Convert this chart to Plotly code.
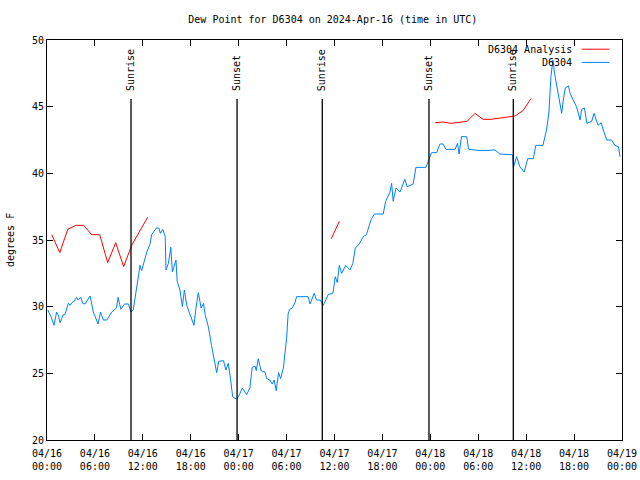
import plotly.graph_objects as go
import pandas as pd

BASE = pd.Timestamp("2024-04-16 00:00")

# D6304 observations (hours since 04/16 00:00 UTC, dew point degF)
obs_hours = [0.1, 0.5, 0.88, 1.2, 1.45, 1.63, 2.04, 2.25, 2.67, 2.9, 3.1, 3.4, 3.7, 3.9, 4.25, 4.47, 4.76,
             5.1, 5.4, 5.8, 6.1, 6.4, 6.7, 7.05, 7.5, 8.1, 8.7, 8.9, 9.25, 9.7, 10.2, 10.5, 10.8, 11.1,
             11.4, 11.65, 11.85, 12.27, 12.5, 12.9, 13.1, 13.7, 14.0, 14.2, 14.5, 14.8, 14.9, 15.2, 15.5,
             15.7, 16.15, 16.3, 16.65, 16.95, 17.2, 17.5, 17.9, 18.4, 18.65, 18.95, 19.3, 19.6, 19.8,
             20.2, 20.6, 20.9, 21.25, 21.5, 22.1, 22.4, 22.7, 23.0, 23.25, 23.75, 24.1, 24.45, 25.0,
             25.4, 25.7, 26.05, 26.2, 26.45, 26.8, 27.3, 27.5, 27.9, 28.2, 28.45, 28.7, 29.0, 29.25,
             29.6, 29.8, 30.0, 30.2, 30.4, 30.7, 31.05, 31.25, 32.7, 32.95, 33.45, 33.75, 34.2, 34.6,
             35.2, 35.8, 36.1, 36.35, 36.6, 36.9, 37.4, 37.95, 38.3, 38.6, 39.1, 39.6, 40.0, 40.35,
             40.6, 41.0, 42.1, 42.4, 42.95, 43.15, 43.35, 43.7, 44.2, 44.8, 45.1, 45.85, 46.2, 47.45,
             47.95, 48.15, 48.8, 49.2, 49.6, 49.95, 51.1, 51.4, 51.6, 51.9, 52.55, 52.8, 54.4, 56.1,
             56.7, 57.8, 58.3, 58.4, 58.8, 59.2, 59.75, 60.2, 60.9, 61.2, 62.1, 62.55, 62.85, 63.1,
             63.35, 63.55, 63.8, 64.25, 64.45, 64.65, 64.9, 65.3, 65.5, 65.9, 66.3, 66.75, 66.95,
             67.3, 67.6, 68.2, 68.5, 69.0, 69.4, 69.65, 70.1, 70.7, 71.1, 71.55, 71.75]
obs_values = [29.75, 29.25, 28.6, 29.6, 29.3, 28.8, 29.4, 29.4, 30.25, 30.1, 30.3, 30.4, 30.7, 30.5, 30.7,
              30.25, 30.2, 30.5, 30.8, 29.6, 29.2, 28.7, 29.6, 29.0, 29.0, 29.6, 29.9, 30.7, 29.8, 30.2,
              30.2, 29.6, 29.75, 30.9, 32.0, 33.1, 32.7, 33.6, 34.1, 34.7, 35.4, 35.9, 35.9, 35.5, 35.8,
              35.25, 32.75, 33.25, 34.45, 32.6, 33.5, 31.9, 31.25, 30.0, 31.25, 30.1, 29.5, 28.6, 29.9,
              31.05, 29.9, 30.25, 29.4, 28.5, 27.1, 26.0, 25.05, 25.9, 25.95, 25.25, 25.75, 24.5, 23.25,
              23.05, 23.4, 23.9, 23.4, 23.9, 25.45, 25.55, 25.2, 26.1, 25.2, 25.1, 24.6, 24.5, 24.2,
              24.5, 23.7, 25.05, 24.6, 25.4, 26.4, 27.6, 29.5, 29.8, 29.9, 30.3, 30.75, 30.75, 30.2,
              31.0, 30.5, 30.5, 30.1, 30.9, 31.0, 32.25, 31.8, 33.1, 32.5, 33.1, 32.75, 33.25, 34.4,
              34.7, 35.25, 35.4, 36.1, 36.55, 36.95, 36.95, 37.9, 38.6, 39.25, 37.9, 38.9, 38.6, 39.55,
              39.0, 39.2, 40.45, 40.45, 41.25, 41.55, 41.55, 42.2, 42.2, 41.8, 41.8, 42.25, 41.45,
              42.75, 42.75, 41.8, 41.7, 41.75, 41.45, 41.45, 41.4, 40.45, 41.25, 40.5, 40.1, 41.1,
              41.1, 42.1, 42.1, 43.25, 44.6, 47.25, 48.5, 47.5, 46.6, 45.0, 44.5, 45.5, 46.4, 46.55,
              46.0, 45.5, 45.0, 44.0, 44.8, 44.9, 43.75, 43.9, 44.5, 43.6, 43.8, 43.25, 42.5, 42.5,
              42.1, 42.0, 41.25]

# D6304 Analysis (three separate segments)
ana1_hours = [0.6, 1.6, 2.6, 3.6, 4.6, 5.6, 6.6, 7.6, 8.6, 9.6, 10.6, 11.6, 12.6]
ana1_values = [35.4, 34.05, 35.8, 36.1, 36.1, 35.4, 35.4, 33.3, 34.8, 33.0, 34.6, 35.65, 36.7]
ana2_hours = [35.6, 36.6]
ana2_values = [35.1, 36.4]
ana3_hours = [48.6, 49.6, 50.6, 51.6, 52.6, 53.6, 54.6, 55.6, 56.6, 57.6, 58.6, 59.6, 60.6]
ana3_values = [43.8, 43.85, 43.75, 43.85, 43.9, 44.5, 44.05, 44.05, 44.15, 44.2, 44.3, 44.7, 45.6]

# Sun events
event_hours = [10.52, 23.8, 34.47, 47.83, 58.39]
event_labels = ["Sunrise", "Sunset", "Sunrise", "Sunset", "Sunrise"]

# X ticks
tick_hours = [0, 6, 12, 18, 24, 30, 36, 42, 48, 54, 60, 66, 72]
tick_labels = ["04/16<br>00:00", "04/16<br>06:00", "04/16<br>12:00", "04/16<br>18:00",
               "04/17<br>00:00", "04/17<br>06:00", "04/17<br>12:00", "04/17<br>18:00",
               "04/18<br>00:00", "04/18<br>06:00", "04/18<br>12:00", "04/18<br>18:00",
               "04/19<br>00:00"]
y_ticks = [20, 25, 30, 35, 40, 45, 50]


def to_t(hs):
    return [BASE + pd.Timedelta(hours=h) for h in hs]


FONT = "DejaVu Sans Mono"
RED = "#ff0000"
BLUE = "#0080ff"

ana_x = to_t(ana1_hours) + [None] + to_t(ana2_hours) + [None] + to_t(ana3_hours)
ana_y = ana1_values + [None] + ana2_values + [None] + ana3_values

fig = go.Figure()
fig.add_trace(go.Scatter(x=ana_x, y=ana_y, mode="lines", name="D6304 Analysis",
                         line=dict(color=RED, width=1), connectgaps=False))
fig.add_trace(go.Scatter(x=to_t(obs_hours), y=obs_values, mode="lines", name="D6304",
                         line=dict(color=BLUE, width=1)))

shapes = []
annotations = []
for h, lab in zip(event_hours, event_labels):
    t = BASE + pd.Timedelta(hours=h)
    shapes.append(dict(type="line", xref="x", yref="paper", x0=t, x1=t, y0=0, y1=0.8525,
                       line=dict(color="black", width=1.3)))
    annotations.append(dict(x=t, y=0.8675, xref="x", yref="paper", text=lab, textangle=-90,
                            showarrow=False, xanchor="center", yanchor="bottom",
                            font=dict(family=FONT, size=10, color="black")))

# manual legend (text right-aligned, sample on the right)
for txt, col, yp in [("D6304 Analysis", RED, 0.977), ("D6304", BLUE, 0.944)]:
    annotations.append(dict(x=0.9165, y=yp, xref="paper", yref="paper", text=txt, showarrow=False,
                            xanchor="right", yanchor="middle",
                            font=dict(family=FONT, size=10, color="black")))
    shapes.append(dict(type="line", xref="paper", yref="paper", x0=0.930, x1=0.978, y0=yp, y1=yp,
                       line=dict(color=col, width=1)))

annotations.append(dict(x=-0.0643, y=0.5, xref="paper", yref="paper", text="degrees F",
                        textangle=-90, showarrow=False, xanchor="center", yanchor="middle",
                        font=dict(family=FONT, size=10, color="black")))

fig.update_layout(
    width=640, height=480,
    margin=dict(l=47, r=18, t=40, b=40, pad=0, autoexpand=False),
    paper_bgcolor="white", plot_bgcolor="white",
    showlegend=False,
    font=dict(family=FONT, size=10, color="black"),
    title=dict(text="Dew Point for D6304 on 2024-Apr-16 (time in UTC)", x=0.52, xanchor="center",
               y=0.96, yanchor="middle", font=dict(family=FONT, size=10, color="black")),
    shapes=shapes, annotations=annotations,
)
fig.update_xaxes(range=[BASE, BASE + pd.Timedelta(hours=72)], tickvals=to_t(tick_hours),
                 ticktext=tick_labels, ticks="inside", ticklen=6, tickcolor="black",
                 showline=True, linecolor="black", linewidth=1, mirror="ticks",
                 showgrid=False, zeroline=False, tickfont=dict(family=FONT, size=10),
                 automargin=False, ticklabelstandoff=4)
fig.update_yaxes(range=[20, 50], tickvals=y_ticks, ticks="inside", ticklen=6, tickcolor="black",
                 showline=True, linecolor="black", linewidth=1, mirror="ticks",
                 showgrid=False, zeroline=False, tickfont=dict(family=FONT, size=10),
                 automargin=False)

fig.write_html("out.html", config={"displayModeBar": False},
               post_script="document.body.style.margin='0';document.body.style.padding='0';")
